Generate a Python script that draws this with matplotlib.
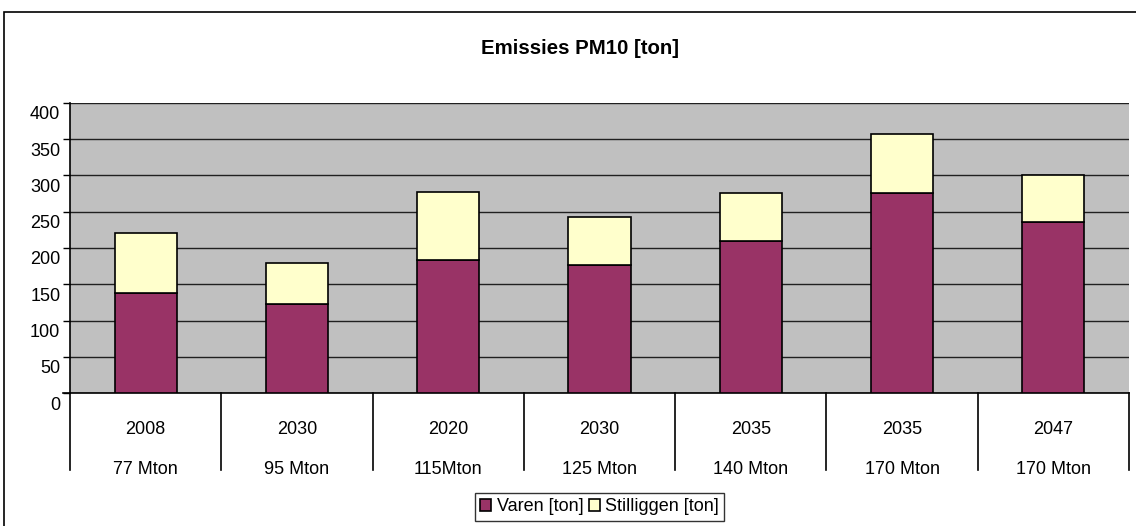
import numpy as np
import matplotlib
matplotlib.use('Agg')
import matplotlib.pyplot as plt
import matplotlib.transforms as mtransforms
from matplotlib.patches import Rectangle

plt.rcParams['font.family'] = ['Liberation Sans', 'DejaVu Sans']

# Data
years = ['2008', '2030', '2020', '2030', '2035', '2035', '2047']
volumes = ['77 Mton', '95 Mton', '115Mton', '125 Mton', '140 Mton', '170 Mton', '170 Mton']
varen = [137.5, 122.3, 183.2, 176.4, 209.4, 276.3, 235.5]
stilliggen = [83.3, 56.4, 94.5, 66.3, 66.9, 80.6, 64.5]
yticks = [0, 50, 100, 150, 200, 250, 300, 350, 400]

W, H = 1136, 526
fig = plt.figure(figsize=(W / 100, H / 100), dpi=100)

# outer chart frame (runs off the right and bottom edges)
fig.patches.append(Rectangle((4 / W, -0.1), 1.2, 1 - 12 / H + 0.1,
                             transform=fig.transFigure, fill=False,
                             edgecolor='black', linewidth=1.2))

left, right = 70 / W, 1129 / W
bottom, top = 1 - 393.3 / H, 1 - 102.7 / H
ax = fig.add_axes([left, bottom, right - left, top - bottom])
ax.set_facecolor('#C0C0C0')

x = np.arange(len(years))
ax.bar(x, varen, width=0.41, color='#993366', edgecolor='black',
       linewidth=1.2, label='Varen [ton]', zorder=3)
ax.bar(x, stilliggen, width=0.41, bottom=varen, color='#FFFFCC',
       edgecolor='black', linewidth=1.2, label='Stilliggen [ton]', zorder=3)

ax.set_xlim(-0.5, len(years) - 0.5)
ax.set_ylim(0, 400)
ax.set_yticks(yticks)
ax.yaxis.grid(True, color='#202020', linewidth=1)
ax.set_axisbelow(True)
ax.tick_params(axis='y', length=5, width=1, pad=2, labelsize=13)
ax.set_xticks([])

# Excel-like offset of the value labels
offset = mtransforms.ScaledTranslation(0, -10 / 100, fig.dpi_scale_trans)
for lbl in ax.get_yticklabels():
    lbl.set_transform(lbl.get_transform() + offset)

for s in ['top', 'right']:
    ax.spines[s].set_visible(False)
ax.spines['left'].set_linewidth(1.2)
ax.spines['bottom'].set_linewidth(1.2)

# category separators and labels below the axis
trans = ax.get_xaxis_transform()
sep_depth = (470 - 393.3) / (393.3 - 102.7)
for b in np.arange(len(years) + 1) - 0.5:
    ax.plot([b, b], [0, -sep_depth], color='black', linewidth=1.2,
            transform=trans, clip_on=False)
ax.plot([-0.5 - 7 / 151.3, -0.5], [0, 0], color='black', linewidth=1.2,
        transform=trans, clip_on=False)

y_year = -(430 - 393.3) / (393.3 - 102.7)
y_vol = -(469 - 393.3) / (393.3 - 102.7)
for xi, yr, vol in zip(x, years, volumes):
    ax.text(xi, y_year, yr, ha='center', va='center', fontsize=13, transform=trans)
    ax.text(xi, y_vol, vol, ha='center', va='center', fontsize=13, transform=trans)

fig.text(580 / W, 1 - 49 / H, 'Emissies PM10 [ton]', ha='center', va='center',
         fontsize=14.7, fontweight='bold')

leg = fig.legend(loc='upper left', bbox_to_anchor=(475 / W, 1 - 493 / H),
                 ncol=2, frameon=True, fancybox=False, fontsize=13,
                 handlelength=0.6, handleheight=0.6, handletextpad=0.3,
                 columnspacing=0.3, borderpad=0.3, borderaxespad=0)
leg.get_frame().set_edgecolor('black')
leg.get_frame().set_linewidth(1)

plt.savefig('out.png', dpi=100)
plt.close()
